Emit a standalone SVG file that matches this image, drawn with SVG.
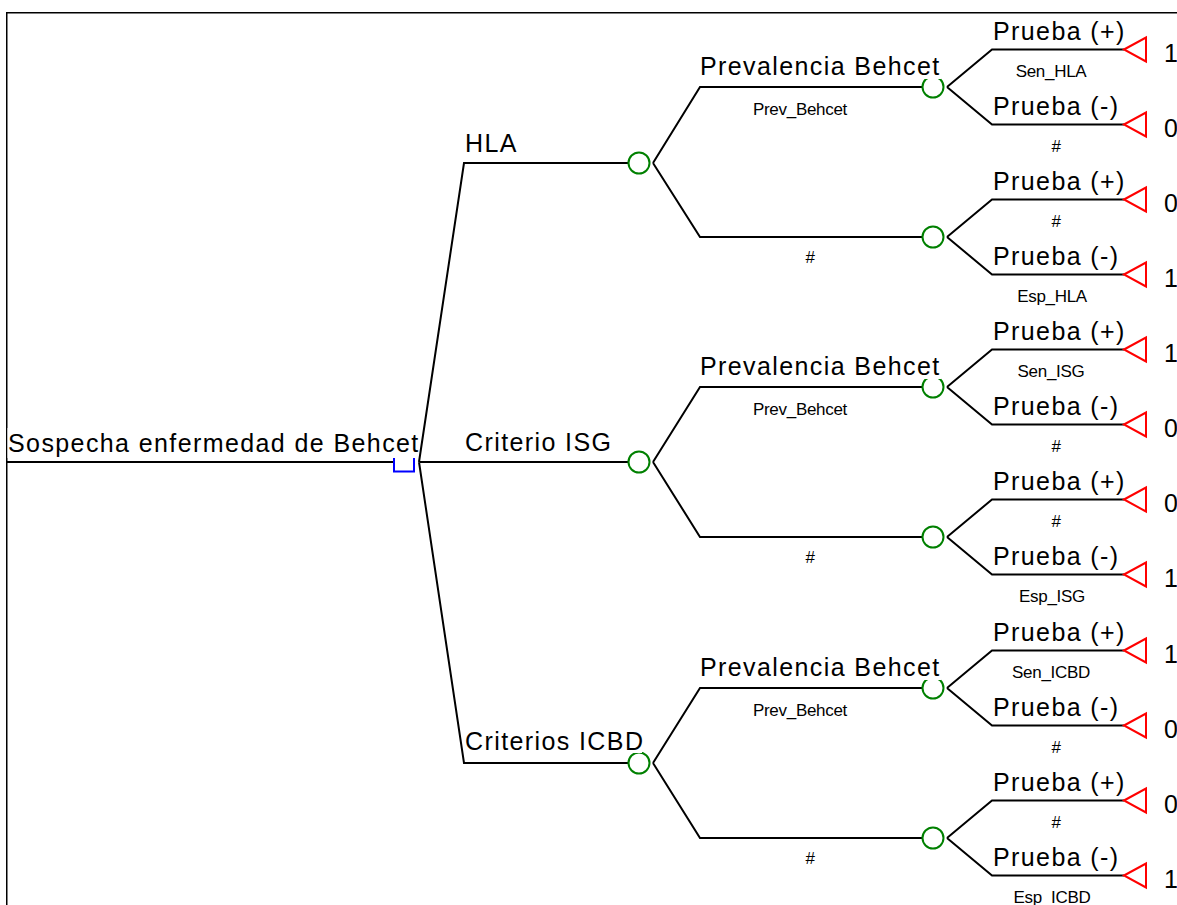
<svg xmlns="http://www.w3.org/2000/svg" width="1177" height="905" viewBox="0 0 1177 905">
<style>
.ln{stroke:#000;stroke-width:2;fill:none}
.ch{stroke:#008000;stroke-width:2;fill:#fff}
.tm{stroke:#ff0000;stroke-width:2;fill:#fff}
.dc{stroke:#0000ff;stroke-width:2;fill:#fff}
.bg{fill:#fff;stroke:none}
.lg{font-family:"Liberation Sans",Arial,sans-serif;font-size:25px;letter-spacing:1.4px;fill:#000}
.sm{font-family:"Liberation Sans",Arial,sans-serif;font-size:17px;letter-spacing:-0.3px;fill:#000;text-anchor:middle}
</style>
<rect x="0" y="0" width="1177" height="905" fill="#fff"/>
<rect x="6.75" y="12.75" width="1200" height="920" fill="none" stroke="#000" stroke-width="1.5"/>

<g id="connectors" class="ln">
<path d="M6,462H394"/>
<path d="M419,462L464,163H628.5M419,462H628.5M419,462L464,763H628.5"/>
<!-- HLA -->
<path d="M653,163L700,87H922.5M653,163L700,237H922.5"/>
<path d="M947,87L992,49.5H1124M947,87L992,124.5H1124"/>
<path d="M947,237L992,199.5H1124M947,237L992,274.5H1124"/>
<!-- ISG -->
<path d="M653,462L700,387H922.5M653,462L700,537H922.5"/>
<path d="M947,387L992,349.5H1124M947,387L992,424.5H1124"/>
<path d="M947,537L992,499.5H1124M947,537L992,574.5H1124"/>
<!-- ICBD -->
<path d="M653,763L700,688H922.5M653,763L700,838H922.5"/>
<path d="M947,688L992,650.5H1124M947,688L992,725.5H1124"/>
<path d="M947,838L992,800.5H1124M947,838L992,875.5H1124"/>
</g>

<g id="root">
<rect class="dc" x="394" y="452" width="20" height="19.5"/>
<rect class="bg" x="7.5" y="428" width="410" height="30"/>
<text class="lg" x="8" y="452">Sospecha enfermedad de Behcet</text>
</g>

<g id="hla">
<circle class="ch" cx="639" cy="163" r="10.5"/>
<text class="lg" x="465" y="152">HLA</text>
</g>
<g id="isg">
<circle class="ch" cx="639" cy="462" r="10.5"/>
<text class="lg" x="465" y="451">Criterio ISG</text>
</g>
<g id="icbd">
<circle class="ch" cx="639" cy="763" r="10.5"/>
<rect class="bg" x="464" y="728" width="178" height="25"/>
<text class="lg" x="465" y="750">Criterios ICBD</text>
</g>

<g id="hla-prev">
<circle class="ch" cx="933" cy="87" r="10.5"/>
<rect class="bg" x="699" y="52" width="242" height="27"/>
<text class="lg" x="700" y="75">Prevalencia Behcet</text>
<text class="sm" x="800" y="115">Prev_Behcet</text>
</g>
<g id="hla-no">
<circle class="ch" cx="933" cy="237" r="10.5"/>
<text class="sm" x="810" y="263">#</text>
</g>
<g id="isg-prev">
<circle class="ch" cx="933" cy="387" r="10.5"/>
<rect class="bg" x="699" y="352" width="242" height="27"/>
<text class="lg" x="700" y="375">Prevalencia Behcet</text>
<text class="sm" x="800" y="415">Prev_Behcet</text>
</g>
<g id="isg-no">
<circle class="ch" cx="933" cy="537" r="10.5"/>
<text class="sm" x="810" y="563">#</text>
</g>
<g id="icbd-prev">
<circle class="ch" cx="933" cy="688" r="10.5"/>
<rect class="bg" x="699" y="653" width="242" height="27"/>
<text class="lg" x="700" y="676">Prevalencia Behcet</text>
<text class="sm" x="800" y="716">Prev_Behcet</text>
</g>
<g id="icbd-no">
<circle class="ch" cx="933" cy="838" r="10.5"/>
<text class="sm" x="810" y="864">#</text>
</g>

<!-- terminals HLA -->
<g id="t1"><polygon class="tm" points="1124,49.5 1146,37.5 1146,61.5"/><text class="lg" x="993" y="39.5">Prueba (+)</text><text class="sm" x="1051" y="76.5">Sen_HLA</text><text class="lg" x="1164" y="61.5">1</text></g>
<g id="t2"><polygon class="tm" points="1124,124.5 1146,112.5 1146,136.5"/><text class="lg" x="993" y="114.5">Prueba (-)</text><text class="sm" x="1056" y="151.5">#</text><text class="lg" x="1164" y="136.5">0</text></g>
<g id="t3"><polygon class="tm" points="1124,199.5 1146,187.5 1146,211.5"/><text class="lg" x="993" y="189.5">Prueba (+)</text><text class="sm" x="1056" y="226.5">#</text><text class="lg" x="1164" y="211.5">0</text></g>
<g id="t4"><polygon class="tm" points="1124,274.5 1146,262.5 1146,286.5"/><text class="lg" x="993" y="264.5">Prueba (-)</text><text class="sm" x="1052" y="301.5">Esp_HLA</text><text class="lg" x="1164" y="286.5">1</text></g>
<!-- terminals ISG -->
<g id="t5"><polygon class="tm" points="1124,349.5 1146,337.5 1146,361.5"/><text class="lg" x="993" y="339.5">Prueba (+)</text><text class="sm" x="1051" y="376.5">Sen_ISG</text><text class="lg" x="1164" y="361.5">1</text></g>
<g id="t6"><polygon class="tm" points="1124,424.5 1146,412.5 1146,436.5"/><text class="lg" x="993" y="414.5">Prueba (-)</text><text class="sm" x="1056" y="451.5">#</text><text class="lg" x="1164" y="436.5">0</text></g>
<g id="t7"><polygon class="tm" points="1124,499.5 1146,487.5 1146,511.5"/><text class="lg" x="993" y="489.5">Prueba (+)</text><text class="sm" x="1056" y="526.5">#</text><text class="lg" x="1164" y="511.5">0</text></g>
<g id="t8"><polygon class="tm" points="1124,574.5 1146,562.5 1146,586.5"/><text class="lg" x="993" y="564.5">Prueba (-)</text><text class="sm" x="1052" y="601.5">Esp_ISG</text><text class="lg" x="1164" y="586.5">1</text></g>
<!-- terminals ICBD -->
<g id="t9"><polygon class="tm" points="1124,650.5 1146,638.5 1146,662.5"/><text class="lg" x="993" y="640.5">Prueba (+)</text><text class="sm" x="1051" y="677.5">Sen_ICBD</text><text class="lg" x="1164" y="662.5">1</text></g>
<g id="t10"><polygon class="tm" points="1124,725.5 1146,713.5 1146,737.5"/><text class="lg" x="993" y="715.5">Prueba (-)</text><text class="sm" x="1056" y="752.5">#</text><text class="lg" x="1164" y="737.5">0</text></g>
<g id="t11"><polygon class="tm" points="1124,800.5 1146,788.5 1146,812.5"/><text class="lg" x="993" y="790.5">Prueba (+)</text><text class="sm" x="1056" y="827.5">#</text><text class="lg" x="1164" y="812.5">0</text></g>
<g id="t12"><polygon class="tm" points="1124,875.5 1146,863.5 1146,887.5"/><text class="lg" x="993" y="865.5">Prueba (-)</text><text class="sm" x="1052" y="902.5">Esp_ICBD</text><text class="lg" x="1164" y="887.5">1</text></g>
</svg>
